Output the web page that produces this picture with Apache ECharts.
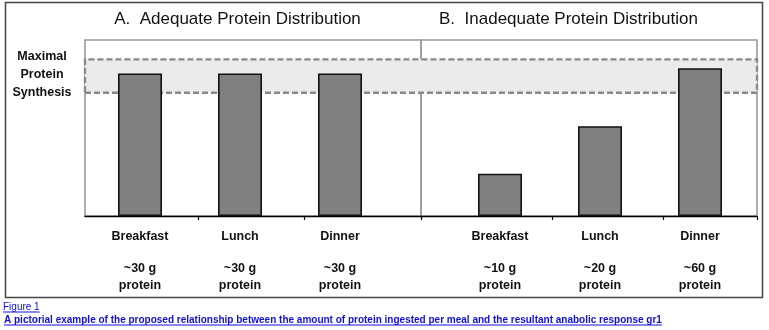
<!DOCTYPE html>
<html>
<head>
<meta charset="utf-8">
<script src="https://cdn.jsdelivr.net/npm/echarts@6/dist/echarts.min.js"></script>
<style>
  html, body { margin: 0; padding: 0; background: #fff; }
  #chart { width: 769px; height: 330px; }
</style>
</head>
<body>
<div id="chart"></div>
<script>
// Meals and the protein eaten at each one
const meals = ['Breakfast', 'Lunch', 'Dinner'];
const proteinA = ['~30 g', '~30 g', '~30 g'];
const proteinB = ['~10 g', '~20 g', '~60 g'];
const proteinWord = 'protein';

// Relative anabolic response per meal (0–100 scale)
const responseA = [81, 81, 81];
const responseB = [24, 51, 84];

// Range of the "maximal protein synthesis" plateau on the same scale
const synthesisBand = [70, 89];
const yMax = 100;

// Texts
const titleA = 'A.  Adequate Protein Distribution';
const titleB = 'B.  Inadequate Protein Distribution';
const yAxisLines = ['Maximal', 'Protein', 'Synthesis'];
const figureLabel = 'Figure 1';
const caption = 'A pictorial example of the proposed relationship between the amount of protein ingested per meal and the resultant anabolic response gr1';

const FONT = '"Liberation Sans", Arial, Helvetica, sans-serif';
const LINK = '#1010e0';

function textWidth(text, font) {
  const ctx = document.createElement('canvas').getContext('2d');
  ctx.font = font;
  return ctx.measureText(text).width;
}

const chart = echarts.init(document.getElementById('chart'), null, { renderer: 'canvas' });

const PLOT_TOP = 40, PLOT_BOTTOM = 114;

function mealLabels(amounts) {
  return {
    show: true,
    margin: 14,
    interval: 0,
    formatter: (v, i) => `{meal|${v}}\n{gap| }\n{amt|${amounts[i]}}\n{amt|${proteinWord}}`,
    rich: {
      meal: { fontFamily: FONT, fontWeight: 'bold', fontSize: 12.5, color: '#111', lineHeight: 14 },
      gap: { fontSize: 10, lineHeight: 16 },
      amt: { fontFamily: FONT, fontWeight: 'bold', fontSize: 12.5, color: '#111', lineHeight: 17 }
    }
  };
}

function frameAxis(gridIndex, ticks) {
  return {
    gridIndex, type: 'value', min: 0, max: 3, position: 'bottom',
    axisLine: { show: true, onZero: false, lineStyle: { color: '#000', width: 1.3 } },
    axisTick: { show: true, customValues: ticks, length: 4, lineStyle: { color: '#000', width: 1.2 } },
    axisLabel: { show: false },
    splitLine: { show: false }
  };
}

function hiddenY(gridIndex) {
  return { gridIndex, type: 'value', min: 0, max: yMax, show: false, splitLine: { show: false } };
}

function barSeries(idx, values) {
  return {
    type: 'bar', xAxisIndex: idx, yAxisIndex: idx, data: values, barWidth: 44, z: 5,
    itemStyle: { color: '#808080', borderColor: '#111', borderWidth: 1.6 },
    silent: true
  };
}

const capFont = 'bold 10px ' + FONT;
const figFont = '10px ' + FONT;
const capW = textWidth(caption, capFont);
const figW = textWidth(figureLabel, figFont);

chart.setOption({
  animation: false,
  backgroundColor: '#fff',
  grid: [
    // panel frames
    { left: 85, width: 336, top: PLOT_TOP, bottom: PLOT_BOTTOM, show: true, borderColor: '#9a9a9a', borderWidth: 1.6, backgroundColor: 'transparent' },
    { left: 421, width: 336, top: PLOT_TOP, bottom: PLOT_BOTTOM, show: true, borderColor: '#9a9a9a', borderWidth: 1.6, backgroundColor: 'transparent' },
    // plateau band across both panels
    { left: 85, width: 672, top: PLOT_TOP, bottom: PLOT_BOTTOM },
    // bars
    { left: 90, width: 300, top: PLOT_TOP, bottom: PLOT_BOTTOM },
    { left: 450, width: 300, top: PLOT_TOP, bottom: PLOT_BOTTOM }
  ],
  xAxis: [
    frameAxis(0, [1.01, 1.96, 3]),
    frameAxis(1, [1.17, 2.16, 3]),
    { gridIndex: 2, type: 'value', min: 0, max: 1, show: false },
    { gridIndex: 3, type: 'category', data: meals, axisLine: { show: false }, axisTick: { show: false }, axisLabel: mealLabels(proteinA) },
    { gridIndex: 4, type: 'category', data: meals, axisLine: { show: false }, axisTick: { show: false }, axisLabel: mealLabels(proteinB) }
  ],
  yAxis: [hiddenY(0), hiddenY(1), hiddenY(2), hiddenY(3), hiddenY(4)],
  series: [
    {
      type: 'line', xAxisIndex: 2, yAxisIndex: 2, data: [], z: 1, silent: true,
      markArea: {
        silent: true,
        itemStyle: { color: '#ebebeb', borderColor: '#8a8a8a', borderWidth: 2.4, borderType: [6, 3] },
        data: [[{ yAxis: synthesisBand[0] }, { yAxis: synthesisBand[1] }]]
      }
    },
    barSeries(3, responseA),
    barSeries(4, responseB)
  ],
  graphic: [
    { type: 'rect', silent: true, z: 0, shape: { x: 5.5, y: 2.5, width: 757, height: 295 }, style: { fill: null, stroke: '#444', lineWidth: 1.5 } },
    { type: 'text', x: 237.5, y: 19, style: { text: titleA, font: '17px ' + FONT, fill: '#111', align: 'center', verticalAlign: 'middle' } },
    { type: 'text', x: 568.5, y: 19, style: { text: titleB, font: '17px ' + FONT, fill: '#111', align: 'center', verticalAlign: 'middle' } },
    { type: 'text', x: 42, y: 75, style: { text: yAxisLines.join('\n'), font: 'bold 12.5px ' + FONT, lineHeight: 18, fill: '#111', align: 'center', verticalAlign: 'middle' } },
    { type: 'text', x: 3, y: 307.5, style: { text: figureLabel, font: figFont, fill: LINK, align: 'left', verticalAlign: 'middle' } },
    { type: 'line', shape: { x1: 3, y1: 312, x2: 3 + figW, y2: 312 }, style: { stroke: LINK, lineWidth: 1 } },
    { type: 'text', x: 4, y: 320, style: { text: caption, font: capFont, fill: LINK, align: 'left', verticalAlign: 'middle' } },
    { type: 'line', shape: { x1: 4, y1: 325, x2: 4 + capW, y2: 325 }, style: { stroke: LINK, lineWidth: 1 } }
  ]
});
</script>
</body>
</html>
